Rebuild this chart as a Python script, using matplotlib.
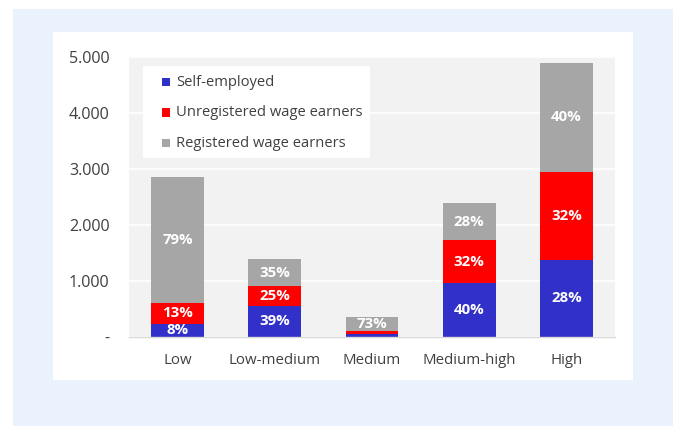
import matplotlib
matplotlib.use("Agg")
import matplotlib.pyplot as plt
from matplotlib.patches import Rectangle
from matplotlib.ticker import FixedLocator, FuncFormatter

# Workers by category (thousands), stacked by employment type
categories = ["Low", "Low-medium", "Medium", "Medium-high", "High"]
self_employed = [228, 546, 48, 956, 1372]
unregistered = [370, 350, 47, 765, 1568]
registered = [2252, 490, 255, 669, 1960]
# which segment labels are shown (small segments are left unlabeled)
show_self = [True, True, False, True, True]
show_unreg = [True, True, False, True, True]
show_reg = [True, True, True, True, True]

series_names = ["Self-employed", "Unregistered wage earners", "Registered wage earners"]
y_ticks = [0, 1000, 2000, 3000, 4000, 5000]

BLUE = "#3131c9"
RED = "#ff0000"
GREY = "#a6a6a6"
PANEL_BG = "#eaf3fd"
PLOT_BG = "#f2f2f2"
TEXT = "#404040"
FONT = "Open Sans"

W, H = 676, 426
fig = plt.figure(figsize=(W / 100, H / 100), dpi=100)
fig.patch.set_facecolor("white")


def fig_rect(x0, y0, x1, y1, color, z=-10):
    # rectangle given in pixel coordinates measured from the top-left corner
    r = Rectangle((x0 / W, 1 - y1 / H), (x1 - x0) / W, (y1 - y0) / H,
                  transform=fig.transFigure, facecolor=color, edgecolor="none", zorder=z)
    fig.patches.append(r)
    return r


fig_rect(13, 9, 673, 426, PANEL_BG)
fig_rect(53, 32, 633, 380, "white")

ax_l, ax_r, ax_t, ax_b = 129, 615, 57, 336.5
ax = fig.add_axes([ax_l / W, 1 - ax_b / H, (ax_r - ax_l) / W, (ax_b - ax_t) / H])
ax.set_facecolor(PLOT_BG)

x = list(range(len(categories)))
width = 0.545
totals = [a + b + c for a, b, c in zip(self_employed, unregistered, registered)]
bottom_unreg = self_employed
bottom_reg = [a + b for a, b in zip(self_employed, unregistered)]

ax.bar(x, self_employed, width, color=BLUE, zorder=3)
ax.bar(x, unregistered, width, bottom=bottom_unreg, color=RED, zorder=3)
ax.bar(x, registered, width, bottom=bottom_reg, color=GREY, zorder=3)

# percentage share labels inside each segment
for vals, bots, shows in ((self_employed, [0] * 5, show_self),
                          (unregistered, bottom_unreg, show_unreg),
                          (registered, bottom_reg, show_reg)):
    for i, (v, b, s) in enumerate(zip(vals, bots, shows)):
        if not s:
            continue
        pct = round(100 * v / totals[i])
        ax.text(i, b + v / 2, f"{pct}%", ha="center", va="center", color="white",
                fontsize=10.8, fontweight="bold", family=FONT, zorder=5, clip_on=True)

ax.set_xlim(-0.5, len(categories) - 0.5)
ax.set_ylim(0, 5000)
ax.yaxis.set_major_locator(FixedLocator(y_ticks))
ax.yaxis.set_major_formatter(FuncFormatter(
    lambda v, p: "-" if v == 0 else f"{int(v):,}".replace(",", ".")))
ax.set_xticks(x)
ax.set_xticklabels(categories)
ax.grid(axis="y", color="white", linewidth=1.2, zorder=0)
ax.set_axisbelow(True)
for side in ("top", "right", "left"):
    ax.spines[side].set_visible(False)
ax.spines["bottom"].set_color("#d9d9d9")
ax.spines["bottom"].set_linewidth(1.0)
ax.spines["bottom"].set_zorder(4)
ax.tick_params(axis="both", length=0, colors=TEXT)
ax.tick_params(axis="y", pad=14, labelsize=11.6)
ax.tick_params(axis="x", pad=12, labelsize=10.8)
for lab in ax.get_xticklabels() + ax.get_yticklabels():
    lab.set_family(FONT)

# legend box inside the plot area
fig_rect(143, 66, 370, 158, "white", z=10)
for k, (name, col) in enumerate(zip(series_names, (BLUE, RED, GREY))):
    yc = 82 + 30.5 * k
    fig_rect(162, yc - 4, 170, yc + 4, col, z=11)
    fig.text(176 / W, 1 - yc / H, name, ha="left", va="center", color=TEXT,
             fontsize=10.6, family=FONT, zorder=12)

fig.savefig("out.png", dpi=100, facecolor="white")
